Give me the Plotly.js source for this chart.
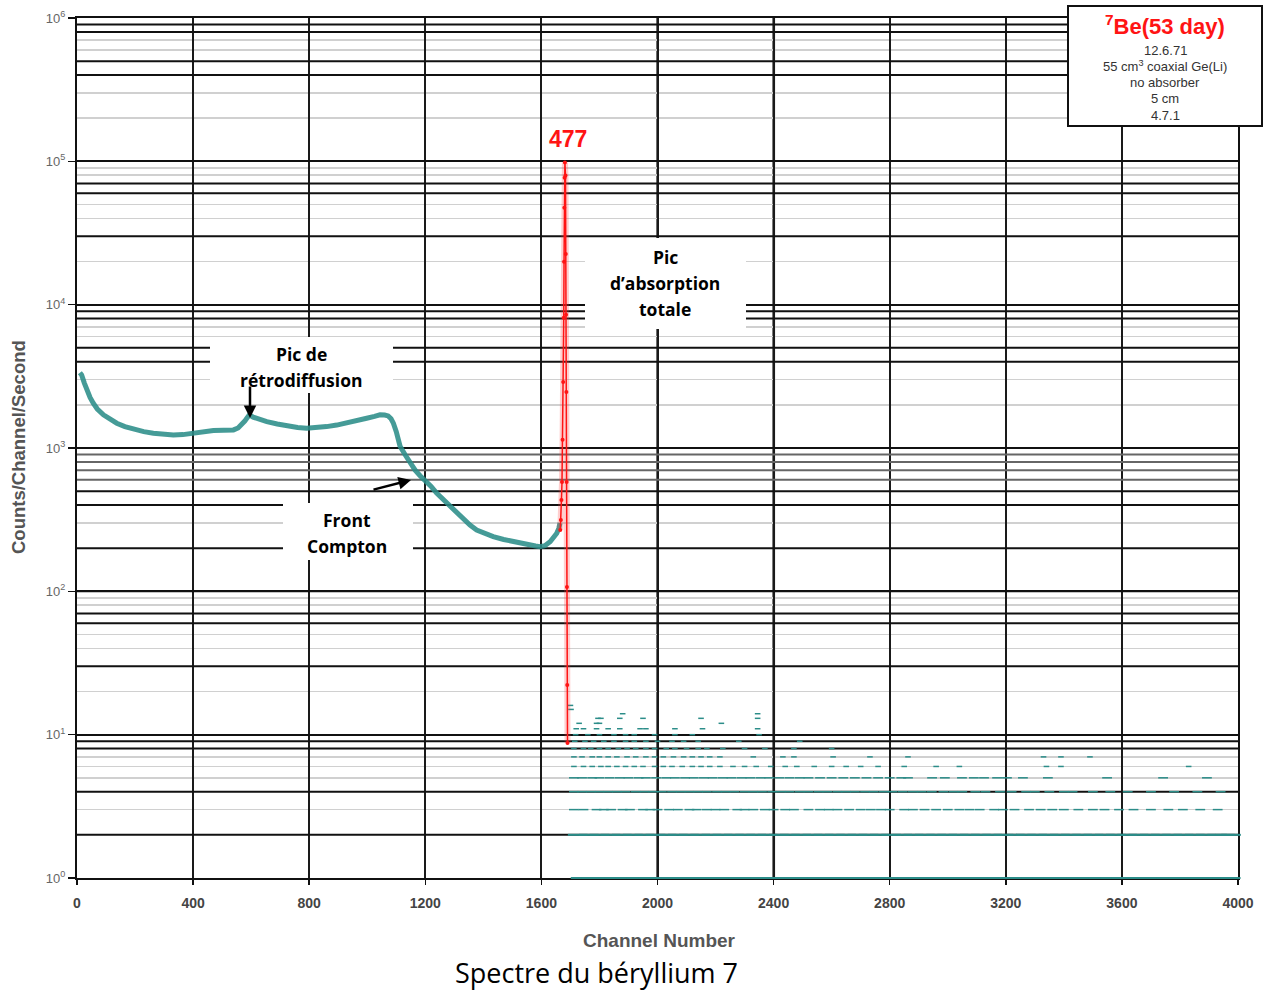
<!DOCTYPE html>
<html>
<head>
<meta charset="utf-8">
<script src="https://cdn.plot.ly/plotly-3.0.1.min.js"></script>
<style>
  html, body { margin: 0; padding: 0; background: #ffffff; }
  #chart { width: 1274px; height: 994px; }
</style>
</head>
<body>
<div id="chart"></div>
<script>
// ---------------- DATA ----------------
// Main spectrum (Compton continuum) : channel / counts per channel per second
const channelMain = [10,16,25,33,45,56,70,91,115,137,165,194,230,263,300,332,365,401,435,470,505,539,555,567,578,585,594,607,630,654,690,722,760,791,825,860,895,929,965,998,1025,1044,1060,1072,1082,1090,1100,1113,1130,1147,1165,1182,1200,1220,1239,1262,1285,1308,1331,1354,1377,1405,1434,1470,1503,1530,1561,1580,1595,1612,1630,1645,1653,1660,1664];
const countsMain  = [3350,3236,2850,2543,2250,2055,1870,1703,1580,1490,1410,1353,1300,1268,1245,1234,1240,1270,1300,1323,1330,1337,1380,1449,1540,1613,1703,1641,1580,1529,1470,1426,1390,1374,1385,1410,1445,1490,1545,1613,1660,1703,1700,1675,1600,1490,1300,1030,900,790,700,640,595,540,484,435,390,350,315,290,268,252,241,230,222,215,211,207,205,208,222,238,254,275,299];

// Full-energy peak (477 keV)
const channelPeak = [1665,1667,1669,1671,1673,1675,1677,1678,1679,1680,1681,1683,1684,1685,1686,1687,1688,1689,1690];
const countsPeak  = [268,315,434,580,1140,2890,8090,19900,47400,76700,98100,79600,22600,8490,2460,580,107,22.2,8.75];

// Quantised tail above the peak: channels where each count level is recorded
const tailLevels = [1,2,3,4,5,6,7,8,9,10,11,12,13,14,15,16];
const tail1  = [1735,1772,1810,1851,1890,1928,1967,2005,2046,2084,2121,2160,2200,2238,2277,2316,2355,2394,2432,2470,2510,2549,2588,2626,2665,2704,2743,2782,2820,2860,2898,2937,2976,3015,3054,3092,3131,3170,3209,3248,3287,3326,3365,3404,3442,3481,3520,3559,3598,3637,3676,3715,3754,3793,3832,3871,3910,3945,3975];
const tail2  = [1725,1763,1800,1838,1877,1915,1955,1993,2031,2070,2108,2147,2186,2224,2263,2302,2340,2379,2418,2456,2495,2534,2572,2611,2650,2689,2727,2766,2805,2843,2882,2921,2960,2998,3037,3076,3114,3153,3192,3231,3269,3308,3347,3386,3424,3463,3502,3541,3579,3618,3657,3696,3734,3773,3812,3851,3889,3928,3955,3976];
const tail3  = [1712,1745,1790,1815,1840,1880,1905,1950,1975,2000,2040,2070,2110,2135,2170,2200,2230,2275,2300,2330,2370,2400,2440,2470,2520,2560,2590,2620,2660,2700,2735,2770,2800,2850,2880,2920,2960,3000,3040,3075,3110,3160,3190,3230,3280,3320,3360,3400,3450,3500,3540,3590,3640,3700,3760,3810,3870,3930];
const tail4  = [1712,1740,1770,1800,1830,1860,1890,1925,1955,1985,2015,2050,2080,2110,2140,2170,2205,2235,2265,2300,2330,2360,2395,2425,2455,2490,2520,2555,2585,2620,2650,2680,2715,2745,2780,2810,2845,2880,2910,2945,2985,3020,3050,3095,3130,3180,3220,3270,3300,3350,3400,3430,3500,3560,3620,3700,3780,3860,3940];
const tail5  = [1712,1740,1775,1800,1835,1870,1900,1935,1960,1995,2030,2060,2095,2125,2160,2190,2225,2255,2290,2320,2355,2385,2420,2455,2490,2520,2560,2600,2640,2680,2720,2760,2800,2840,2863,2946,2990,3049,3090,3125,3170,3204,3259,3345,3549,3742,3893];
const tail6  = [1712,1745,1775,1805,1830,1860,1890,1920,1950,1990,2020,2050,2085,2120,2150,2180,2215,2260,2300,2340,2390,2440,2480,2540,2600,2650,2700,2760,2850,2960,3040,3340,3390,3830];
const tail7  = [1712,1740,1775,1800,1830,1860,1895,1925,1960,1990,2020,2055,2090,2120,2150,2180,2215,2330,2432,2470,2605,2732,2863,3330,3390,3490];
const tail8  = [1712,1745,1770,1800,1830,1865,1895,1925,1960,1990,2030,2060,2100,2140,2170,2225,2300,2370,2470,2600];
const tail9  = [1715,1750,1780,1815,1850,1890,1920,1960,2000,2050,2090,2140,2280,2490];
const tail10 = [1718,1760,1800,1850,1890,1920,1990,2060,2120,2350];
const tail11 = [1720,1745,1790,1830,1870,1940,1960,2060,2155,2345];
const tail12 = [1730,1790,1800,2220];
const tail13 = [1795,1805,1870,1950,2150,2345];
const tail14 = [1880,2345];
const tail15 = [1702];
const tail16 = [1700];
const tailChannels = [tail1,tail2,tail3,tail4,tail5,tail6,tail7,tail8,tail9,tail10,tail11,tail12,tail13,tail14,tail15,tail16];

// Axis ticks
const xTickVals = [0,400,800,1200,1600,2000,2400,2800,3200,3600,4000];
const yTickVals = [1,10,100,1000,10000,100000,1000000];
const yTickText = ['10<sup>0</sup>','10<sup>1</sup>','10<sup>2</sup>','10<sup>3</sup>','10<sup>4</sup>','10<sup>5</sup>','10<sup>6</sup>'];

// Texts
const xTitle = 'Channel Number';
const yTitle = 'Counts/Channel/Second';
const caption = 'Spectre du béryllium 7';
const peakLabel = '477';
const legendTitle = '<sup>7</sup>Be(53 day)';
const legendLines = ['12.6.71','55 cm<sup>3</sup> coaxial Ge(Li)','no absorber','5 cm','4.7.1'];
const noteBackscatter = ['Pic de','rétrodiffusion'];
const noteCompton = ['Front','Compton'];
const notePeak = ['Pic','d’absorption','totale'];

// ---------------- STYLE ----------------
const TEAL = '#2b8d89';
const RED = '#ff1414';

// decorative grid (scanned look): light minor lines, some rendered dark
const darkGrid = [2,4,8,9,30,60,70,100,200,400,500,4000,5000,8000,9000,30000,60000,70000,400000,500000,800000,900000];
const midGrid = [600,700,800,900];
const greyVerticals = [2000, 2400];
const minorGrid = [];
for (let d = 0; d < 6; d++) for (let k = 2; k <= 9; k++) {
  const v = k * Math.pow(10, d);
  if (darkGrid.indexOf(v) < 0 && midGrid.indexOf(v) < 0) minorGrid.push(v);
}

const traces = [];

// tail
tailLevels.forEach((lv, i) => {
  const sz = lv <= 2 ? 14 : (lv <= 5 ? 7 : 4);
  const lw = lv <= 2 ? 2 : 1.5;
  traces.push({
    x: tailChannels[i], y: tailChannels[i].map(() => lv),
    type: 'scatter', mode: 'markers', cliponaxis: false,
    marker: { symbol: 'line-ew', size: sz, color: TEAL, line: { width: lw, color: TEAL } },
    hoverinfo: 'skip', showlegend: false
  });
});

// main continuum
traces.push({
  x: channelMain, y: countsMain,
  type: 'scatter', mode: 'lines',
  line: { color: 'rgba(43,141,137,0.88)', width: 5 },
  hoverinfo: 'skip', showlegend: false
});

// peak halo + peak
traces.push({
  x: channelPeak, y: countsPeak,
  type: 'scatter', mode: 'lines',
  line: { color: 'rgba(255,60,60,0.25)', width: 6 },
  hoverinfo: 'skip', showlegend: false
});
traces.push({
  x: channelPeak, y: countsPeak,
  type: 'scatter', mode: 'lines+markers',
  line: { color: RED, width: 1.5 },
  marker: { color: RED, size: 4 },
  hoverinfo: 'skip', showlegend: false
});

const L = 77, R = 36, T = 18, B = 116;
const PW = 1274 - L - R, PH = 994 - T - B;
const px = X => (X - L) / PW;
const py = Y => (994 - B - Y) / PH;

const tickFont = { family: 'Liberation Sans, Arial, sans-serif', size: 14, color: '#444', weight: 'bold' };
const noteFont = { family: 'Open Sans, sans-serif', size: 17.5, color: '#000', weight: 'bold' };
const smallFont = { family: 'Liberation Sans, Arial, sans-serif', size: 13, color: '#333' };

const shapes = [];
darkGrid.forEach(v => shapes.push({ type: 'line', xref: 'x', yref: 'y', layer: 'between',
  x0: 0, x1: 4000, y0: v, y1: v, line: { color: '#111111', width: 2 } }));
midGrid.forEach(v => shapes.push({ type: 'line', xref: 'x', yref: 'y', layer: 'between',
  x0: 0, x1: 4000, y0: v, y1: v, line: { color: '#666666', width: 2 } }));
greyVerticals.forEach(v => shapes.push({ type: 'line', xref: 'x', yref: 'paper', layer: 'between',
  x0: v, x1: v, y0: 0, y1: 1, line: { color: '#6e6e6e', width: 3 } }));
// white note boxes
const boxes = [[210, 337, 393, 393], [283, 503, 413, 560], [585, 238, 746, 329]];
boxes.forEach(b => shapes.push({ type: 'rect', xref: 'paper', yref: 'paper', layer: 'above',
  x0: px(b[0]), x1: px(b[2]), y0: py(b[3]), y1: py(b[1]), fillcolor: '#ffffff', line: { width: 0 } }));
// legend frame
shapes.push({ type: 'rect', xref: 'paper', yref: 'paper', layer: 'above',
  x0: px(1068), x1: px(1262), y0: py(126), y1: py(6),
  fillcolor: '#ffffff', line: { color: '#111', width: 2 } });

const ann = (X, Y, text, font, extra) => Object.assign({
  xref: 'paper', yref: 'paper', x: px(X), y: py(Y), text: text, showarrow: false,
  xanchor: 'center', yanchor: 'middle', font: font }, extra || {});

const annotations = [];
noteBackscatter.forEach((t, i) => annotations.push(ann(301, 354 + 26 * i, t, noteFont)));
noteCompton.forEach((t, i) => annotations.push(ann(347, 520 + 26 * i, t, noteFont)));
notePeak.forEach((t, i) => annotations.push(ann(665, 257 + 26 * i, t, noteFont)));
annotations.push(
  { xref: 'paper', yref: 'paper', x: px(250), y: py(418), ax: 0, ay: -33, text: '',
    showarrow: true, arrowhead: 2, arrowsize: 1, arrowwidth: 2.5, arrowcolor: '#000' },
  { xref: 'paper', yref: 'paper', x: px(411), y: py(480), ax: -39, ay: 10, text: '',
    showarrow: true, arrowhead: 2, arrowsize: 1, arrowwidth: 2.5, arrowcolor: '#000' },
  ann(568, 139, peakLabel, { family: 'Liberation Sans, Arial, sans-serif', size: 23, color: RED, weight: 'bold' }),
  ann(1165, 25, legendTitle, { family: 'Liberation Sans, Arial, sans-serif', size: 22, color: RED, weight: 'bold' }),
  ann(659, 940, xTitle, { family: 'Liberation Sans, Arial, sans-serif', size: 19, color: '#555', weight: 'bold' }),
  ann(18, 447, yTitle, { family: 'Liberation Sans, Arial, sans-serif', size: 18.5, color: '#555', weight: 'bold' }, { textangle: -90 }),
  ann(596, 972, caption, { family: 'Open Sans, sans-serif', size: 27, color: '#000' })
);
legendLines.forEach((t, i) => annotations.push(ann(1165, 50 + 16.3 * i, t, smallFont)));

const layout = {
  width: 1274, height: 994,
  margin: { l: L, r: R, t: T, b: B, pad: 0 },
  paper_bgcolor: '#ffffff', plot_bgcolor: '#ffffff',
  hovermode: false, showlegend: false,
  xaxis: {
    type: 'linear', range: [0, 4000], tickmode: 'array', tickvals: xTickVals,
    showgrid: true, gridcolor: '#1a1a1a', gridwidth: 2,
    zeroline: false, showline: true, linecolor: '#111', linewidth: 2, mirror: true,
    ticks: 'outside', ticklen: 5, tickwidth: 1.5, tickcolor: '#111',
    tickfont: tickFont, ticklabelstandoff: 6, layer: 'below traces'
  },
  yaxis: {
    type: 'log', range: [0, 6], tickmode: 'array', tickvals: yTickVals, ticktext: yTickText,
    showgrid: true, gridcolor: '#111', gridwidth: 2,
    zeroline: false, showline: true, linecolor: '#111', linewidth: 2, mirror: true,
    ticks: 'outside', ticklen: 7, tickwidth: 1.5, tickcolor: '#111',
    tickfont: { family: 'Liberation Sans, Arial, sans-serif', size: 13, color: '#666' },
    minor: { tickmode: 'array', tickvals: minorGrid, showgrid: true, gridcolor: '#d0d0d0', gridwidth: 1.5, ticks: '' },
    layer: 'below traces'
  },
  shapes: shapes,
  annotations: annotations
};

Plotly.newPlot('chart', traces, layout, { displayModeBar: false, staticPlot: true });
</script>
</body>
</html>
